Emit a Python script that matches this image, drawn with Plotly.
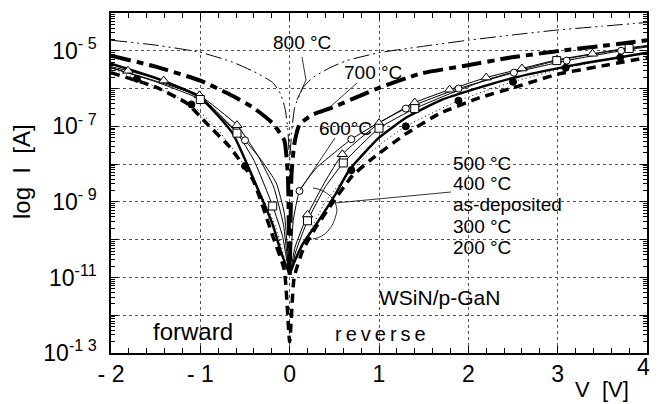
import numpy as np
import plotly.graph_objects as go

# ---------------- data (V in volts, log10 of |I| in A) ----------------
V800 = [-2.0,-1.5,-1.0,-0.64,-0.4,-0.19,-0.1,-0.05,-0.02,0.0,0.02,0.056,0.15,0.26,0.45,0.64,1.0,1.5,2.0,2.5,3.0,3.5,4.0]
L800 = [-4.72,-4.85,-5.04,-5.3,-5.55,-5.84,-6.15,-6.55,-7.1,-7.9,-7.2,-6.5,-5.97,-5.71,-5.45,-5.26,-5.05,-4.88,-4.72,-4.58,-4.45,-4.35,-4.25]

V700 = [-2.0,-1.5,-1.0,-0.7,-0.41,-0.19,-0.06,-0.02,0.0,0.02,0.05,0.11,0.25,0.48,0.98,1.47,1.98,2.47,3.03,3.5,4.0]
L700 = [-5.13,-5.42,-5.79,-6.12,-6.5,-6.92,-7.37,-8.3,-11.0,-8.3,-7.5,-6.95,-6.7,-6.5,-6.0,-5.6,-5.39,-5.18,-5.0,-4.87,-4.72]

V600 = [-2.0,-1.5,-1.0,-0.5,-0.3,-0.15,-0.06,0.0,0.04,0.11,0.3,0.5,0.69,1.0,1.3,1.89,2.51,3.1,3.71,4.0]
L600 = [-5.45,-5.8,-6.22,-7.37,-7.95,-8.5,-9.3,-10.9,-9.5,-8.71,-8.1,-7.7,-7.34,-6.9,-6.53,-6.0,-5.58,-5.26,-5.0,-4.9]
M600_V = [-0.5,0.11,0.69,1.3,1.89,2.51,3.1,3.71]
M600_L = [-7.37,-8.71,-7.34,-6.53,-6.0,-5.58,-5.26,-5.0]

V500 = [-2.0,-1.81,-1.41,-1.01,-0.59,-0.35,-0.18,-0.07,0.0,0.06,0.2,0.4,0.59,1.0,1.4,1.79,2.2,2.6,2.99,3.39,3.8,4.0]
L500 = [-5.42,-5.53,-5.79,-6.18,-6.97,-7.8,-8.6,-9.6,-10.9,-10.2,-9.34,-8.45,-7.74,-6.92,-6.37,-6.03,-5.71,-5.47,-5.24,-5.08,-4.92,-4.86]
M500_V = [-1.81,-1.41,-1.01,-0.59,0.2,0.59,1.0,1.4,1.79,2.2,2.6,2.99,3.39,3.8]
M500_L = [-5.53,-5.79,-6.18,-6.97,-9.34,-7.74,-6.92,-6.37,-6.03,-5.71,-5.47,-5.24,-5.08,-4.92]

V400 = [-2.0,-1.5,-1.0,-0.59,-0.4,-0.19,-0.08,0.0,0.07,0.2,0.4,0.6,1.0,1.4,1.8,2.2,2.6,2.99,3.39,3.8,4.0]
L400 = [-5.45,-5.82,-6.29,-7.18,-7.9,-9.11,-9.9,-10.9,-10.3,-9.5,-8.6,-7.97,-7.05,-6.53,-6.13,-5.77,-5.5,-5.26,-5.09,-4.94,-4.88]
M400_V = [-1.0,-0.59,-0.19,0.2,0.6,1.0,1.4,2.99,3.8]
M400_L = [-6.29,-7.18,-9.11,-9.5,-7.97,-7.05,-6.53,-5.26,-4.94]

VASD = [-2.0,-1.5,-1.0,-0.64,-0.34,-0.19,-0.1,0.0,0.05,0.15,0.31,0.5,0.67,1.0,1.31,1.7,2.13,2.5,3.09,3.5,4.0]
LASD = [-5.34,-5.72,-6.24,-7.18,-8.75,-9.6,-10.3,-10.9,-10.6,-10.1,-9.55,-8.85,-8.15,-7.3,-6.76,-6.3,-5.97,-5.72,-5.42,-5.25,-5.05]

V300 = [-2.0,-1.71,-1.1,-0.8,-0.5,-0.3,-0.15,0.0,0.08,0.2,0.4,0.69,1.0,1.3,1.89,2.5,3.09,3.7,4.0]
L300 = [-5.48,-5.74,-6.42,-7.1,-8.05,-8.9,-9.7,-10.9,-10.5,-9.9,-9.0,-8.16,-7.5,-7.0,-6.32,-5.82,-5.45,-5.18,-5.08]
M300_V = [-1.71,-1.1,-0.5,0.69,1.3,1.89,2.5,3.09,3.7]
M300_L = [-5.74,-6.42,-8.05,-8.16,-7.0,-6.32,-5.82,-5.45,-5.18]

V200 = [-2.0,-1.49,-1.15,-0.93,-0.67,-0.41,-0.19,-0.06,0.0,0.05,0.15,0.3,0.45,0.69,0.9,1.3,1.68,2.13,2.5,3.0,3.5,4.0]
L200 = [-5.58,-5.97,-6.39,-6.92,-7.55,-8.42,-9.9,-10.8,-12.7,-11.0,-10.26,-9.65,-9.13,-8.34,-7.9,-7.2,-6.66,-6.24,-5.98,-5.62,-5.4,-5.18]

X_TICKS = [-2, -1, 0, 1, 2, 3]
X_TICKTEXT = ["- 2", "- 1", "0", "1", "2", "3"]
Y_EXPS = list(range(-13, -4))
Y_LABELS = {-5: "10<sup>- 5</sup>", -7: "10<sup>- 7</sup>", -9: "10<sup>- 9</sup>",
            -11: "10<sup>-11</sup>", -13: "10<sup>-1 3</sup>"}

# ---------------- figure ----------------
FONT = "Liberation Sans"
fig = go.Figure()

def curve(v, l, width, dash):
    fig.add_trace(go.Scatter(x=v, y=10 ** np.array(l), mode="lines",
                             line=dict(color="black", width=width, dash=dash, shape="spline", smoothing=0.45),
                             showlegend=False, hoverinfo="skip"))

def marks(v, l, symbol, size, fill):
    fig.add_trace(go.Scatter(x=v, y=10 ** np.array(l), mode="markers",
                             marker=dict(symbol=symbol, size=size, color=fill,
                                         line=dict(color="black", width=1)),
                             showlegend=False, hoverinfo="skip"))

curve(V800, L800, 1, "16px,4px,2px,4px,2px,4px")
curve(V700, L700, 4, "20px,6px,7px,6px")
curve(V600, L600, 1, "solid")
curve(V500, L500, 1, "solid")
curve(V400, L400, 1, "solid")
curve(VASD, LASD, 2.5, "solid")
curve(V300, L300, 1, "1px,3px")
curve(V200, L200, 3.5, "9px,6px")
marks(M600_V, M600_L, "circle", 7, "white")
marks(M500_V, M500_L, "triangle-up", 9, "white")
marks(M400_V, M400_L, "square", 8, "white")
marks(M300_V, M300_L, "circle", 7, "black")

L, T, W, H = 111, 13, 536, 340
def px(x):
    return (x - L) / W
def py(y):
    return (T + H - y) / H

minor_y = [m * 10.0 ** e for e in range(-13, -4) for m in range(2, 10)]

fig.update_layout(
    width=668, height=404,
    margin=dict(l=L, r=668 - L - W, t=T, b=404 - T - H),
    paper_bgcolor="white", plot_bgcolor="white",
    font=dict(family=FONT, color="black"),
    xaxis=dict(range=[-2, 4], tickmode="array", tickvals=X_TICKS, ticktext=X_TICKTEXT,
               ticks="inside", ticklen=7, tickcolor="black", tickwidth=1,
               showline=True, linecolor="black", linewidth=1.5, mirror="ticks",
               showgrid=True, gridcolor="#555", griddash="dot", gridwidth=1,
               zeroline=False, tickfont=dict(size=23, family=FONT),
               minor=dict(dtick=0.2, tick0=0, ticks="inside", ticklen=5, tickcolor="black", showgrid=False)),
    yaxis=dict(type="log", range=[-13, -4], tickmode="array",
               tickvals=[10.0 ** e for e in Y_EXPS],
               ticktext=[Y_LABELS.get(e, "") for e in Y_EXPS],
               ticks="inside", ticklen=7, tickcolor="black",
               showline=True, linecolor="black", linewidth=1.5, mirror="ticks",
               showgrid=True, gridcolor="#555", griddash="dot", gridwidth=1,
               zeroline=False, tickfont=dict(size=23, family=FONT), ticklabelstandoff=8,
               minor=dict(tickmode="array", tickvals=minor_y, ticks="inside", ticklen=4,
                          tickcolor="black", showgrid=False)),
)

ann = []
def text(t, x, y, size=19, xanchor="left", yanchor="middle", angle=0):
    ann.append(dict(text=t, x=px(x), y=py(y), xref="paper", yref="paper", showarrow=False,
                    xanchor=xanchor, yanchor=yanchor, textangle=angle,
                    font=dict(size=size, family=FONT, color="black")))

text("800 °C", 271, 42)
text("700 °C", 342, 72)
text("600°C", 317, 128)
text("500 °C", 451, 163)
text("400 °C", 451, 183)
text("as-deposited", 451, 204)
text("300 °C", 451, 226)
text("200 °C", 451, 247)
text("WSiN/p-GaN", 377, 297, size=21)
text("forward", 151, 331, size=24)
text("r\u2009e\u2009v\u2009e\u2009r\u2009s\u2009e", 333, 334, size=20)
text("log  I  [A]", 21, 172, size=24, xanchor="center", angle=-90)
text("4", 643, 367, size=23, xanchor="center")
text("V  [V]", 602, 389, size=22, xanchor="center")
fig.update_layout(annotations=ann)

def seg(points):
    d = "M " + " L ".join(f"{px(a):.4f},{py(b):.4f}" for a, b in points)
    return dict(type="path", path=d, xref="paper", yref="paper",
                line=dict(color="black", width=0.8))

shapes = [
    seg([(302, 57), (306, 80), (297, 100)]),
    seg([(357, 83), (330, 107)]),
    seg([(335, 138), (300, 190)]),
    seg([(451, 192), (335, 203)]),
    dict(type="path", xref="paper", yref="paper", line=dict(color="black", width=0.8),
         path=(f"M {px(313):.4f},{py(188):.4f} C {px(330):.4f},{py(190):.4f} {px(340):.4f},{py(205):.4f} {px(336):.4f},{py(215):.4f} "
               f"C {px(333):.4f},{py(228):.4f} {px(325):.4f},{py(237):.4f} {px(313):.4f},{py(239):.4f}")),
]
fig.update_layout(shapes=shapes)

fig.write_html("out.html")
